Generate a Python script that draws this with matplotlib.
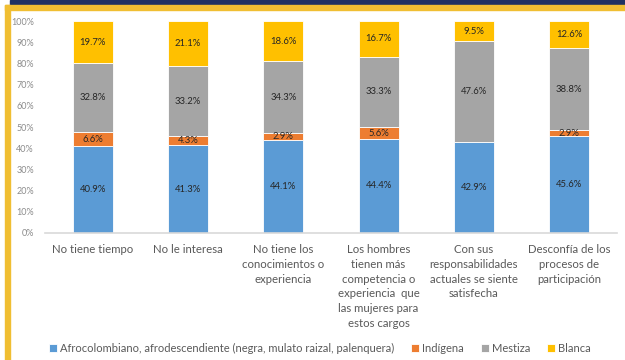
import numpy as np
import matplotlib
matplotlib.use("Agg")
import matplotlib.pyplot as plt
from matplotlib.patches import Rectangle

categories = [
    "No tiene tiempo",
    "No le interesa",
    "No tiene los\nconocimientos o\nexperiencia",
    "Los hombres\ntienen más\ncompetencia o\nexperiencia  que\nlas mujeres para\nestos cargos",
    "Con sus\nresponsabilidades\nactuales se siente\nsatisfecha",
    "Desconfía de los\nprocesos de\nparticipación",
]
series_names = [
    "Afrocolombiano, afrodescendiente (negra, mulato raizal, palenquera)",
    "Indígena",
    "Mestiza",
    "Blanca",
]
afro = [40.9, 41.3, 44.1, 44.4, 42.9, 45.6]
indigena = [6.6, 4.3, 2.9, 5.6, 0.0, 2.9]
mestiza = [32.8, 33.2, 34.3, 33.3, 47.6, 38.8]
blanca = [19.7, 21.1, 18.6, 16.7, 9.5, 12.6]
yticks = np.arange(0, 101, 10)

colors = ["#5B9BD5", "#ED7D31", "#A5A5A5", "#FFC000"]

plt.rcParams["font.family"] = ["Lato", "DejaVu Sans"]

fig = plt.figure(figsize=(6.25, 3.6), dpi=100)
ax = fig.add_axes([0.072, 0.353, 0.915, 0.588])

# page frame: navy band on top, yellow rule below it and down the left side
fig.patches.append(Rectangle((10 / 625, 355 / 360), 1, 5 / 360,
                             transform=fig.transFigure, color="#1F3162", zorder=0))
fig.patches.append(Rectangle((5 / 625, 350 / 360), 1, 5 / 360,
                             transform=fig.transFigure, color="#F0BE32", zorder=0))
fig.patches.append(Rectangle((5 / 625, 0), 5 / 625, 355 / 360,
                             transform=fig.transFigure, color="#F0BE32", zorder=0))

x = np.arange(len(categories))
bottom = np.zeros(len(categories))
for name, vals, c in zip(series_names, [afro, indigena, mestiza, blanca], colors):
    vals = np.array(vals)
    ax.bar(x, vals, 0.42, bottom=bottom, color=c, label=name,
           edgecolor="white", linewidth=0.6)
    for xi, v, b in zip(x, vals, bottom):
        if v > 0:
            ax.text(xi, b + v / 2, f"{v:.1f}%", ha="center", va="center",
                    fontsize=6.8, color="#262626")
    bottom += vals

ax.set_xlim(-0.5, len(categories) - 0.5)
ax.set_ylim(0, 100)
ax.set_yticks(yticks)
ax.set_yticklabels([f"{t}%" for t in yticks], fontsize=6.5, color="#8C8C8C")
ax.set_xticks(x)
ax.set_xticklabels(categories, fontsize=8.2, color="#595959", linespacing=1.42)
ax.tick_params(length=0, pad=8)
ax.tick_params(axis="y", pad=8)
for s in ["top", "right", "left"]:
    ax.spines[s].set_visible(False)
ax.spines["bottom"].set_color("#D9D9D9")
ax.spines["bottom"].set_linewidth(1.2)

fig.legend(loc="center", bbox_to_anchor=(0.512, 0.033), ncol=4, frameon=False,
           fontsize=8, handlelength=0.7, handleheight=0.7, handletextpad=0.3,
           columnspacing=1.5, labelcolor="#595959")

fig.savefig("out.png", dpi=100)
